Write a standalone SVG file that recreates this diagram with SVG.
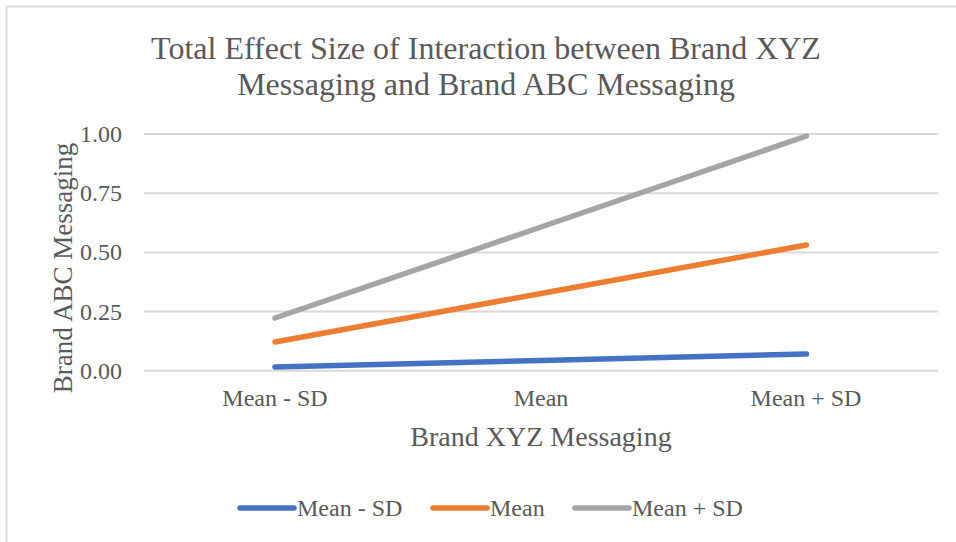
<svg xmlns="http://www.w3.org/2000/svg" width="956" height="542" viewBox="0 0 956 542">
<style>
text{font-family:"Liberation Serif","Times New Roman",serif;fill:#595959}
.title{font-size:32px}
.axt{font-size:28px}
.axy{font-size:27px}
.tick{font-size:24px}
.grid{stroke:#D9D9D9;stroke-width:2}
.series{fill:none;stroke-width:5.5;stroke-linecap:round;stroke-linejoin:round}
.s1{stroke:#4472C4}.s2{stroke:#ED7D31}.s3{stroke:#A5A5A5}
</style>
<rect x="0" y="0" width="956" height="542" fill="#ffffff"/>
<g id="frame">
<line x1="6.5" y1="6.5" x2="956" y2="6.5" stroke="#D9D9D9" stroke-width="2"/>
<line x1="6.5" y1="6.5" x2="6.5" y2="542" stroke="#D9D9D9" stroke-width="2"/>
</g>
<g id="title" text-anchor="middle">
<text class="title" x="486" y="59">Total Effect Size of Interaction between Brand XYZ</text>
<text class="title" x="486" y="95">Messaging and Brand ABC Messaging</text>
</g>
<g id="gridlines">
<line class="grid" x1="144" y1="134" x2="938" y2="134"/>
<line class="grid" x1="144" y1="193.2" x2="938" y2="193.2"/>
<line class="grid" x1="144" y1="252.4" x2="938" y2="252.4"/>
<line class="grid" x1="144" y1="311.6" x2="938" y2="311.6"/>
<line class="grid" x1="144" y1="370.8" x2="938" y2="370.8"/>
</g>
<g id="y-ticks" text-anchor="end">
<text class="tick" x="122" y="142">1.00</text>
<text class="tick" x="122" y="201.2">0.75</text>
<text class="tick" x="122" y="260.4">0.50</text>
<text class="tick" x="122" y="319.6">0.25</text>
<text class="tick" x="122" y="378.8">0.00</text>
</g>
<g id="x-ticks" text-anchor="middle">
<text class="tick" x="275" y="406">Mean - SD</text>
<text class="tick" x="541" y="406">Mean</text>
<text class="tick" x="806" y="406">Mean + SD</text>
</g>
<g id="axis-titles" text-anchor="middle">
<text class="axt" x="541" y="446">Brand XYZ Messaging</text>
<text class="axy" transform="translate(72,268) rotate(-90)">Brand ABC Messaging</text>
</g>
<g id="connectors">
<polyline id="series-mean-minus-sd" class="series s1" points="275,367 541,360.5 806.5,354"/>
<polyline id="series-mean" class="series s2" points="275,342 541,293.5 806.5,245"/>
<polyline id="series-mean-plus-sd" class="series s3" points="275,318 541,227 806.5,136"/>
</g>
<g id="legend">
<line class="series s1" x1="240" y1="508" x2="294" y2="508"/>
<text class="tick" x="297" y="516">Mean - SD</text>
<line class="series s2" x1="433" y1="508" x2="487" y2="508"/>
<text class="tick" x="490" y="516">Mean</text>
<line class="series s3" x1="575" y1="508" x2="629" y2="508"/>
<text class="tick" x="632" y="516">Mean + SD</text>
</g>
</svg>
